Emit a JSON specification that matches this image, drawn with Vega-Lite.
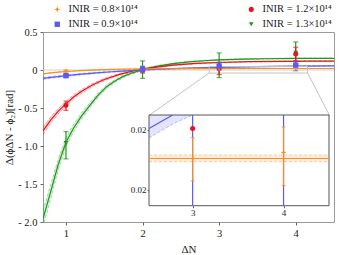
{
"$schema": "https://vega.github.io/schema/vega-lite/v6.json",
"width": 291, "height": 190,
"autosize": "none",
"padding": {"left": 43, "top": 32, "right": 5, "bottom": 33},
"config": {
  "font": "Liberation Serif",
  "view": {"stroke": "#9a9a9a", "strokeWidth": 1},
  "axis": {"grid": false, "domain": false, "labelFont": "Liberation Serif", "labelFontSize": 10.5, "labelColor": "#1a1a1a", "titleFont": "Liberation Serif", "titleFontSize": 11, "titleFontWeight": "normal", "titleColor": "#1a1a1a", "tickColor": "#666666", "tickSize": 3},
  "legend": {"orient": "none", "legendX": 9, "legendY": -28, "columns": 2, "columnPadding": 108, "rowPadding": 4, "labelFont": "Liberation Serif", "labelFontSize": 10.5, "labelColor": "#1a1a1a", "labelLimit": 200, "symbolOpacity": 1, "symbolStrokeWidth": 0, "labelOffset": 6}
},
"datasets": {
  "curves": [
    {"s":"1.3","x":0.7,"y":-1.96,"lo":-2.07,"hi":-1.85},
    {"s":"1.3","x":0.817,"y":-1.54,"lo":-1.629,"hi":-1.451},
    {"s":"1.3","x":0.9,"y":-1.24,"lo":-1.314,"hi":-1.166},
    {"s":"1.3","x":1.0,"y":-0.95,"lo":-1.009,"hi":-0.891},
    {"s":"1.3","x":1.1,"y":-0.763,"lo":-0.813,"hi":-0.713},
    {"s":"1.3","x":1.2,"y":-0.61,"lo":-0.652,"hi":-0.568},
    {"s":"1.3","x":1.317,"y":-0.46,"lo":-0.495,"hi":-0.425},
    {"s":"1.3","x":1.42,"y":-0.33,"lo":-0.358,"hi":-0.302},
    {"s":"1.3","x":1.535,"y":-0.216,"lo":-0.239,"hi":-0.193},
    {"s":"1.3","x":1.65,"y":-0.138,"lo":-0.157,"hi":-0.119},
    {"s":"1.3","x":1.75,"y":-0.084,"lo":-0.1,"hi":-0.068},
    {"s":"1.3","x":1.87,"y":-0.037,"lo":-0.051,"hi":-0.023},
    {"s":"1.3","x":2.0,"y":0.004,"lo":-0.008,"hi":0.016},
    {"s":"1.3","x":2.2,"y":0.052,"lo":0.043,"hi":0.061},
    {"s":"1.3","x":2.4,"y":0.084,"lo":0.076,"hi":0.092},
    {"s":"1.3","x":2.6,"y":0.107,"lo":0.101,"hi":0.113},
    {"s":"1.3","x":2.8,"y":0.122,"lo":0.116,"hi":0.128},
    {"s":"1.3","x":3.0,"y":0.132,"lo":0.127,"hi":0.137},
    {"s":"1.3","x":3.3,"y":0.142,"lo":0.137,"hi":0.147},
    {"s":"1.3","x":3.6,"y":0.148,"lo":0.144,"hi":0.152},
    {"s":"1.3","x":4.0,"y":0.152,"lo":0.148,"hi":0.156},
    {"s":"1.3","x":4.5,"y":0.154,"lo":0.15,"hi":0.158},
    {"s":"1.2","x":0.7,"y":-0.8,"lo":-0.85,"hi":-0.75},
    {"s":"1.2","x":0.8,"y":-0.659,"lo":-0.702,"hi":-0.616},
    {"s":"1.2","x":0.9,"y":-0.541,"lo":-0.578,"hi":-0.504},
    {"s":"1.2","x":1.0,"y":-0.445,"lo":-0.477,"hi":-0.413},
    {"s":"1.2","x":1.1,"y":-0.355,"lo":-0.383,"hi":-0.327},
    {"s":"1.2","x":1.2,"y":-0.283,"lo":-0.307,"hi":-0.259},
    {"s":"1.2","x":1.35,"y":-0.194,"lo":-0.214,"hi":-0.174},
    {"s":"1.2","x":1.5,"y":-0.125,"lo":-0.141,"hi":-0.109},
    {"s":"1.2","x":1.7,"y":-0.057,"lo":-0.07,"hi":-0.044},
    {"s":"1.2","x":1.9,"y":-0.007,"lo":-0.017,"hi":0.003},
    {"s":"1.2","x":2.1,"y":0.029,"lo":0.02,"hi":0.038},
    {"s":"1.2","x":2.4,"y":0.0645,"lo":0.058,"hi":0.071},
    {"s":"1.2","x":2.7,"y":0.086,"lo":0.08,"hi":0.092},
    {"s":"1.2","x":3.0,"y":0.099,"lo":0.094,"hi":0.104},
    {"s":"1.2","x":3.4,"y":0.109,"lo":0.105,"hi":0.113},
    {"s":"1.2","x":3.8,"y":0.1145,"lo":0.11,"hi":0.119},
    {"s":"1.2","x":4.2,"y":0.117,"lo":0.113,"hi":0.121},
    {"s":"1.2","x":4.5,"y":0.118,"lo":0.114,"hi":0.122},
    {"s":"0.9","x":0.7,"y":-0.111,"lo":-0.125,"hi":-0.097},
    {"s":"0.9","x":0.8,"y":-0.098,"lo":-0.111,"hi":-0.085},
    {"s":"0.9","x":0.9,"y":-0.086,"lo":-0.099,"hi":-0.073},
    {"s":"0.9","x":1.0,"y":-0.075,"lo":-0.087,"hi":-0.063},
    {"s":"0.9","x":1.2,"y":-0.055,"lo":-0.065,"hi":-0.045},
    {"s":"0.9","x":1.4,"y":-0.038,"lo":-0.047,"hi":-0.029},
    {"s":"0.9","x":1.6,"y":-0.023,"lo":-0.031,"hi":-0.015},
    {"s":"0.9","x":1.8,"y":-0.011,"lo":-0.018,"hi":-0.004},
    {"s":"0.9","x":2.0,"y":0.0,"lo":-0.007,"hi":0.007},
    {"s":"0.9","x":2.3,"y":0.0135,"lo":0.008,"hi":0.019},
    {"s":"0.9","x":2.6,"y":0.024,"lo":0.019,"hi":0.029},
    {"s":"0.9","x":3.0,"y":0.035,"lo":0.031,"hi":0.039},
    {"s":"0.9","x":3.5,"y":0.0446,"lo":0.041,"hi":0.048},
    {"s":"0.9","x":4.0,"y":0.051,"lo":0.048,"hi":0.054},
    {"s":"0.9","x":4.5,"y":0.0555,"lo":0.053,"hi":0.058},
    {"s":"0.8","x":0.7,"y":-0.05,"lo":-0.054,"hi":-0.046},
    {"s":"0.8","x":0.8,"y":-0.038,"lo":-0.0415,"hi":-0.0345},
    {"s":"0.8","x":0.9,"y":-0.028,"lo":-0.031,"hi":-0.025},
    {"s":"0.8","x":1.0,"y":-0.02,"lo":-0.0226,"hi":-0.0174},
    {"s":"0.8","x":1.2,"y":-0.0075,"lo":-0.0095,"hi":-0.0055},
    {"s":"0.8","x":1.4,"y":0.0011,"lo":-0.0004,"hi":0.0026},
    {"s":"0.8","x":1.6,"y":0.007,"lo":0.0057,"hi":0.0083},
    {"s":"0.8","x":1.8,"y":0.011,"lo":0.01,"hi":0.012},
    {"s":"0.8","x":2.0,"y":0.0138,"lo":0.0129,"hi":0.0147},
    {"s":"0.8","x":2.3,"y":0.0165,"lo":0.0157,"hi":0.0173},
    {"s":"0.8","x":2.6,"y":0.018,"lo":0.0173,"hi":0.0187},
    {"s":"0.8","x":3.0,"y":0.019,"lo":0.0183,"hi":0.0197},
    {"s":"0.8","x":3.5,"y":0.0196,"lo":0.019,"hi":0.0202},
    {"s":"0.8","x":4.0,"y":0.0199,"lo":0.0193,"hi":0.0205},
    {"s":"0.8","x":4.5,"y":0.0199,"lo":0.0193,"hi":0.0205}
  ],
  "pts": [
    {"s":"1.3","x":1,"y":-0.96,"lo":-1.17,"hi":-0.81},
    {"s":"1.3","x":2,"y":0.0,"lo":-0.11,"hi":0.12},
    {"s":"1.3","x":3,"y":0.06,"lo":-0.1,"hi":0.225},
    {"s":"1.3","x":4,"y":0.225,"lo":0.08,"hi":0.37},
    {"s":"1.2","x":1,"y":-0.465,"lo":-0.53,"hi":-0.41},
    {"s":"1.2","x":2,"y":0.0,"lo":-0.04,"hi":0.04},
    {"s":"1.2","x":3,"y":0.0221,"lo":-0.06,"hi":0.1},
    {"s":"1.2","x":4,"y":0.21,"lo":0.12,"hi":0.3},
    {"s":"0.8","x":1,"y":-0.015,"lo":-0.03,"hi":0.0},
    {"s":"0.8","x":2,"y":0.0,"lo":-0.012,"hi":0.012},
    {"s":"0.8","x":3,"y":0.0201,"lo":0.0186,"hi":0.0215},
    {"s":"0.8","x":4,"y":0.0205,"lo":0.0183,"hi":0.0222},
    {"s":"0.9","x":1,"y":-0.075,"lo":-0.09,"hi":-0.06},
    {"s":"0.9","x":2,"y":0.01,"lo":-0.03,"hi":0.05},
    {"s":"0.9","x":3,"y":0.05,"lo":0.0,"hi":0.1},
    {"s":"0.9","x":4,"y":0.065,"lo":-0.01,"hi":0.12}
  ],
  "icurves": [
    {"s":"0.9","x":2.52,"y":0.0221,"lo":0.02147,"hi":0.025},
    {"s":"0.9","x":2.78,"y":0.023,"lo":0.0224,"hi":0.026},
    {"s":"0.9","x":3.0,"y":null,"lo":0.023,"hi":0.027},
    {"s":"0.8","x":2.52,"y":0.0201,"lo":0.01989,"hi":0.02033},
    {"s":"0.8","x":4.5,"y":0.0201,"lo":0.01989,"hi":0.02033}
  ],
  "ipts": [
    {"s":"0.9","x":3,"y":null,"lo":0.0,"hi":0.1,"clo":null,"chi":null},
    {"s":"0.9","x":4,"y":null,"lo":0.0,"hi":0.1,"clo":null,"chi":null},
    {"s":"1.2","x":3,"y":0.0221,"lo":null,"hi":null,"clo":null,"chi":null},
    {"s":"0.8","x":3,"y":0.0201,"lo":0.0186,"hi":0.0215,"clo":0.0186,"chi":0.0215},
    {"s":"0.8","x":4,"y":0.0205,"lo":0.0183,"hi":0.0222,"clo":0.0183,"chi":0.0222}
  ]
},
"layer": [
  {
    "encoding": {
      "x": {"field": "x", "type": "quantitative", "scale": {"domain": [0.7, 4.5], "nice": false, "zero": false}, "axis": {"values": [1, 2, 3, 4], "title": "ΔN", "labelPadding": 3, "titlePadding": 5}}
    },
    "layer": [
      {
        "data": {"values": [{"x": 0.7, "x2": 4.5, "y": 0}]},
        "mark": {"type": "rule", "color": "#d0d0d0", "strokeWidth": 1},
        "encoding": {
          "x2": {"field": "x2"},
          "y": {"field": "y", "type": "quantitative", "scale": {"domain": [-2, 0.5], "nice": false, "zero": false}, "axis": {"values": [-2, -1.5, -1, -0.5, 0, 0.5], "title": "Δ(ϕΔN - ϕ₂)[rad]", "labelExpr": "datum.value < 0 ? '- ' + format(-datum.value, '.1f') : (datum.value == 0 ? '0' : format(datum.value, '.1f'))", "labelPadding": 3, "titlePadding": 3}}
        }
      },
      {
        "data": {"name": "curves"},
        "mark": {"type": "area", "opacity": 0.16, "clip": true},
        "encoding": {
          "y": {"field": "lo", "type": "quantitative", "scale": {"domain": [-2, 0.5], "nice": false, "zero": false}, "axis": {"values": [-2, -1.5, -1, -0.5, 0, 0.5], "title": "Δ(ϕΔN - ϕ₂)[rad]", "labelExpr": "datum.value < 0 ? '- ' + format(-datum.value, '.1f') : (datum.value == 0 ? '0' : format(datum.value, '.1f'))", "labelPadding": 3, "titlePadding": 3}},
          "y2": {"field": "hi"},
          "color": {"field": "s", "type": "nominal", "scale": {"domain": ["0.8", "0.9", "1.2", "1.3"], "range": ["#f7901e", "#5a5af0", "#e8141c", "#1a9a1a"]}, "legend": {"title": null, "values": ["0.8", "0.9", "1.2", "1.3"], "labelExpr": "'INIR = ' + datum.label + '×10¹⁴'"}}
        }
      },
      {
        "data": {"name": "curves"},
        "mark": {"type": "line", "strokeDash": [3, 2], "strokeWidth": 0.8, "opacity": 0.45, "clip": true},
        "encoding": {
          "y": {"field": "lo", "type": "quantitative", "scale": {"domain": [-2, 0.5], "nice": false, "zero": false}, "axis": {"values": [-2, -1.5, -1, -0.5, 0, 0.5], "title": "Δ(ϕΔN - ϕ₂)[rad]", "labelExpr": "datum.value < 0 ? '- ' + format(-datum.value, '.1f') : (datum.value == 0 ? '0' : format(datum.value, '.1f'))", "labelPadding": 3, "titlePadding": 3}},
          "color": {"field": "s", "type": "nominal", "scale": {"domain": ["0.8", "0.9", "1.2", "1.3"], "range": ["#f7901e", "#5a5af0", "#e8141c", "#1a9a1a"]}, "legend": {"title": null, "values": ["0.8", "0.9", "1.2", "1.3"], "labelExpr": "'INIR = ' + datum.label + '×10¹⁴'"}}
        }
      },
      {
        "data": {"name": "curves"},
        "mark": {"type": "line", "strokeDash": [3, 2], "strokeWidth": 0.8, "opacity": 0.45, "clip": true},
        "encoding": {
          "y": {"field": "hi", "type": "quantitative", "scale": {"domain": [-2, 0.5], "nice": false, "zero": false}, "axis": {"values": [-2, -1.5, -1, -0.5, 0, 0.5], "title": "Δ(ϕΔN - ϕ₂)[rad]", "labelExpr": "datum.value < 0 ? '- ' + format(-datum.value, '.1f') : (datum.value == 0 ? '0' : format(datum.value, '.1f'))", "labelPadding": 3, "titlePadding": 3}},
          "color": {"field": "s", "type": "nominal", "scale": {"domain": ["0.8", "0.9", "1.2", "1.3"], "range": ["#f7901e", "#5a5af0", "#e8141c", "#1a9a1a"]}, "legend": {"title": null, "values": ["0.8", "0.9", "1.2", "1.3"], "labelExpr": "'INIR = ' + datum.label + '×10¹⁴'"}}
        }
      },
      {
        "data": {"name": "curves"},
        "mark": {"type": "line", "strokeWidth": 1.2, "clip": true},
        "encoding": {
          "y": {"field": "y", "type": "quantitative", "scale": {"domain": [-2, 0.5], "nice": false, "zero": false}, "axis": {"values": [-2, -1.5, -1, -0.5, 0, 0.5], "title": "Δ(ϕΔN - ϕ₂)[rad]", "labelExpr": "datum.value < 0 ? '- ' + format(-datum.value, '.1f') : (datum.value == 0 ? '0' : format(datum.value, '.1f'))", "labelPadding": 3, "titlePadding": 3}},
          "color": {"field": "s", "type": "nominal", "scale": {"domain": ["0.8", "0.9", "1.2", "1.3"], "range": ["#f7901e", "#5a5af0", "#e8141c", "#1a9a1a"]}, "legend": {"title": null, "values": ["0.8", "0.9", "1.2", "1.3"], "labelExpr": "'INIR = ' + datum.label + '×10¹⁴'"}}
        }
      },
      {
        "data": {"values": [{"x": 2.87, "x2": 4.155, "y": -0.04, "y2": 0.045}]},
        "mark": {"type": "rect", "fill": null, "fillOpacity": 0, "stroke": "#c4c4c4", "strokeWidth": 1},
        "encoding": {
          "x2": {"field": "x2"},
          "y": {"field": "y", "type": "quantitative", "scale": {"domain": [-2, 0.5], "nice": false, "zero": false}, "axis": {"values": [-2, -1.5, -1, -0.5, 0, 0.5], "title": "Δ(ϕΔN - ϕ₂)[rad]", "labelExpr": "datum.value < 0 ? '- ' + format(-datum.value, '.1f') : (datum.value == 0 ? '0' : format(datum.value, '.1f'))", "labelPadding": 3, "titlePadding": 3}},
          "y2": {"field": "y2"}
        }
      },
      {
        "data": {"values": [{"x": 2.87, "y": -0.04, "x2": 2.086, "y2": -0.597}, {"x": 4.155, "y": -0.04, "x2": 4.446, "y2": -0.606}]},
        "mark": {"type": "rule", "color": "#c4c4c4", "strokeWidth": 1},
        "encoding": {
          "x2": {"field": "x2"},
          "y": {"field": "y", "type": "quantitative", "scale": {"domain": [-2, 0.5], "nice": false, "zero": false}, "axis": {"values": [-2, -1.5, -1, -0.5, 0, 0.5], "title": "Δ(ϕΔN - ϕ₂)[rad]", "labelExpr": "datum.value < 0 ? '- ' + format(-datum.value, '.1f') : (datum.value == 0 ? '0' : format(datum.value, '.1f'))", "labelPadding": 3, "titlePadding": 3}},
          "y2": {"field": "y2"}
        }
      },
      {
        "data": {"name": "pts"},
        "mark": {"type": "rule", "strokeWidth": 1.2, "clip": true},
        "encoding": {
          "y": {"field": "lo", "type": "quantitative", "scale": {"domain": [-2, 0.5], "nice": false, "zero": false}, "axis": {"values": [-2, -1.5, -1, -0.5, 0, 0.5], "title": "Δ(ϕΔN - ϕ₂)[rad]", "labelExpr": "datum.value < 0 ? '- ' + format(-datum.value, '.1f') : (datum.value == 0 ? '0' : format(datum.value, '.1f'))", "labelPadding": 3, "titlePadding": 3}},
          "y2": {"field": "hi"},
          "color": {"field": "s", "type": "nominal", "scale": {"domain": ["0.8", "0.9", "1.2", "1.3"], "range": ["#f7901e", "#5a5af0", "#e8141c", "#1a9a1a"]}, "legend": {"title": null, "values": ["0.8", "0.9", "1.2", "1.3"], "labelExpr": "'INIR = ' + datum.label + '×10¹⁴'"}}
        }
      },
      {
        "data": {"name": "pts"},
        "mark": {"type": "tick", "orient": "horizontal", "size": 5, "thickness": 1.2},
        "encoding": {
          "y": {"field": "lo", "type": "quantitative", "scale": {"domain": [-2, 0.5], "nice": false, "zero": false}, "axis": {"values": [-2, -1.5, -1, -0.5, 0, 0.5], "title": "Δ(ϕΔN - ϕ₂)[rad]", "labelExpr": "datum.value < 0 ? '- ' + format(-datum.value, '.1f') : (datum.value == 0 ? '0' : format(datum.value, '.1f'))", "labelPadding": 3, "titlePadding": 3}},
          "color": {"field": "s", "type": "nominal", "scale": {"domain": ["0.8", "0.9", "1.2", "1.3"], "range": ["#f7901e", "#5a5af0", "#e8141c", "#1a9a1a"]}, "legend": {"title": null, "values": ["0.8", "0.9", "1.2", "1.3"], "labelExpr": "'INIR = ' + datum.label + '×10¹⁴'"}}
        }
      },
      {
        "data": {"name": "pts"},
        "mark": {"type": "tick", "orient": "horizontal", "size": 5, "thickness": 1.2},
        "encoding": {
          "y": {"field": "hi", "type": "quantitative", "scale": {"domain": [-2, 0.5], "nice": false, "zero": false}, "axis": {"values": [-2, -1.5, -1, -0.5, 0, 0.5], "title": "Δ(ϕΔN - ϕ₂)[rad]", "labelExpr": "datum.value < 0 ? '- ' + format(-datum.value, '.1f') : (datum.value == 0 ? '0' : format(datum.value, '.1f'))", "labelPadding": 3, "titlePadding": 3}},
          "color": {"field": "s", "type": "nominal", "scale": {"domain": ["0.8", "0.9", "1.2", "1.3"], "range": ["#f7901e", "#5a5af0", "#e8141c", "#1a9a1a"]}, "legend": {"title": null, "values": ["0.8", "0.9", "1.2", "1.3"], "labelExpr": "'INIR = ' + datum.label + '×10¹⁴'"}}
        }
      },
      {
        "data": {"name": "pts"},
        "mark": {"type": "point", "filled": true, "opacity": 1},
        "encoding": {
          "y": {"field": "y", "type": "quantitative", "scale": {"domain": [-2, 0.5], "nice": false, "zero": false}, "axis": {"values": [-2, -1.5, -1, -0.5, 0, 0.5], "title": "Δ(ϕΔN - ϕ₂)[rad]", "labelExpr": "datum.value < 0 ? '- ' + format(-datum.value, '.1f') : (datum.value == 0 ? '0' : format(datum.value, '.1f'))", "labelPadding": 3, "titlePadding": 3}},
          "color": {"field": "s", "type": "nominal", "scale": {"domain": ["0.8", "0.9", "1.2", "1.3"], "range": ["#f7901e", "#5a5af0", "#e8141c", "#1a9a1a"]}, "legend": {"title": null, "values": ["0.8", "0.9", "1.2", "1.3"], "labelExpr": "'INIR = ' + datum.label + '×10¹⁴'"}},
          "shape": {"field": "s", "type": "nominal", "scale": {"domain": ["0.8", "0.9", "1.2", "1.3"], "range": ["M0,-1L0.3,-0.3L1,0L0.3,0.3L0,1L-0.3,0.3L-1,0L-0.3,-0.3Z", "square", "circle", "triangle-down"]}, "legend": {"title": null, "values": ["0.8", "0.9", "1.2", "1.3"], "labelExpr": "'INIR = ' + datum.label + '×10¹⁴'"}},
          "size": {"field": "s", "type": "ordinal", "scale": {"domain": ["0.8", "0.9", "1.2", "1.3"], "range": [32, 22, 12, 30]}, "legend": {"title": null, "values": ["0.8", "0.9", "1.2", "1.3"], "labelExpr": "'INIR = ' + datum.label + '×10¹⁴'"}}
        }
      }
    ]
  },
  {
    "encoding": {
      "x": {"field": "x", "type": "quantitative", "scale": {"domain": [2.52, 4.5], "range": [106, 286], "nice": false, "zero": false, "clamp": true}, "axis": {"orient": "bottom", "offset": -16.3, "values": [3, 4], "title": null, "labelFontSize": 9, "tickSize": 2, "labelPadding": 1}}
    },
    "layer": [
      {
        "data": {"values": [{"x": 2.52, "x2": 4.5, "y": 0.01695, "y2": 0.023}]},
        "mark": {"type": "rect", "fill": "white", "stroke": "#555555", "strokeWidth": 1},
        "encoding": {
          "x2": {"field": "x2"},
          "y": {"field": "y", "type": "quantitative", "scale": {"domain": [0.01695, 0.023], "range": [173.7, 83], "nice": false, "zero": false, "clamp": true}, "axis": {"orient": "left", "offset": -106, "values": [0.018, 0.022], "format": ".2f", "title": null, "labelFontSize": 9, "tickSize": 2, "labelPadding": 1}},
          "y2": {"field": "y2"}
        }
      },
      {
        "data": {"name": "icurves"},
        "mark": {"type": "area", "opacity": 0.16},
        "encoding": {
          "y": {"field": "lo", "type": "quantitative", "scale": {"domain": [0.01695, 0.023], "range": [173.7, 83], "nice": false, "zero": false, "clamp": true}, "axis": {"orient": "left", "offset": -106, "values": [0.018, 0.022], "format": ".2f", "title": null, "labelFontSize": 9, "tickSize": 2, "labelPadding": 1}},
          "y2": {"field": "hi"},
          "color": {"field": "s", "type": "nominal", "scale": {"domain": ["0.8", "0.9", "1.2", "1.3"], "range": ["#f7901e", "#5a5af0", "#e8141c", "#1a9a1a"]}, "legend": {"title": null, "values": ["0.8", "0.9", "1.2", "1.3"], "labelExpr": "'INIR = ' + datum.label + '×10¹⁴'"}}
        }
      },
      {
        "data": {"name": "icurves"},
        "mark": {"type": "line", "strokeDash": [3, 2], "strokeWidth": 0.8, "opacity": 0.5},
        "encoding": {
          "y": {"field": "lo", "type": "quantitative", "scale": {"domain": [0.01695, 0.023], "range": [173.7, 83], "nice": false, "zero": false, "clamp": true}, "axis": {"orient": "left", "offset": -106, "values": [0.018, 0.022], "format": ".2f", "title": null, "labelFontSize": 9, "tickSize": 2, "labelPadding": 1}},
          "color": {"field": "s", "type": "nominal", "scale": {"domain": ["0.8", "0.9", "1.2", "1.3"], "range": ["#f7901e", "#5a5af0", "#e8141c", "#1a9a1a"]}, "legend": {"title": null, "values": ["0.8", "0.9", "1.2", "1.3"], "labelExpr": "'INIR = ' + datum.label + '×10¹⁴'"}}
        }
      },
      {
        "data": {"name": "icurves"},
        "transform": [{"filter": "datum.s == '0.8'"}],
        "mark": {"type": "line", "strokeDash": [3, 2], "strokeWidth": 0.8, "opacity": 0.5},
        "encoding": {
          "y": {"field": "hi", "type": "quantitative", "scale": {"domain": [0.01695, 0.023], "range": [173.7, 83], "nice": false, "zero": false, "clamp": true}, "axis": {"orient": "left", "offset": -106, "values": [0.018, 0.022], "format": ".2f", "title": null, "labelFontSize": 9, "tickSize": 2, "labelPadding": 1}},
          "color": {"field": "s", "type": "nominal", "scale": {"domain": ["0.8", "0.9", "1.2", "1.3"], "range": ["#f7901e", "#5a5af0", "#e8141c", "#1a9a1a"]}, "legend": {"title": null, "values": ["0.8", "0.9", "1.2", "1.3"], "labelExpr": "'INIR = ' + datum.label + '×10¹⁴'"}}
        }
      },
      {
        "data": {"name": "icurves"},
        "mark": {"type": "line", "strokeWidth": 1.2},
        "encoding": {
          "y": {"field": "y", "type": "quantitative", "scale": {"domain": [0.01695, 0.023], "range": [173.7, 83], "nice": false, "zero": false, "clamp": true}, "axis": {"orient": "left", "offset": -106, "values": [0.018, 0.022], "format": ".2f", "title": null, "labelFontSize": 9, "tickSize": 2, "labelPadding": 1}},
          "color": {"field": "s", "type": "nominal", "scale": {"domain": ["0.8", "0.9", "1.2", "1.3"], "range": ["#f7901e", "#5a5af0", "#e8141c", "#1a9a1a"]}, "legend": {"title": null, "values": ["0.8", "0.9", "1.2", "1.3"], "labelExpr": "'INIR = ' + datum.label + '×10¹⁴'"}}
        }
      },
      {
        "data": {"name": "ipts"},
        "mark": {"type": "rule", "strokeWidth": 1.2},
        "encoding": {
          "y": {"field": "lo", "type": "quantitative", "scale": {"domain": [0.01695, 0.023], "range": [173.7, 83], "nice": false, "zero": false, "clamp": true}, "axis": {"orient": "left", "offset": -106, "values": [0.018, 0.022], "format": ".2f", "title": null, "labelFontSize": 9, "tickSize": 2, "labelPadding": 1}},
          "y2": {"field": "hi"},
          "color": {"field": "s", "type": "nominal", "scale": {"domain": ["0.8", "0.9", "1.2", "1.3"], "range": ["#f7901e", "#5a5af0", "#e8141c", "#1a9a1a"]}, "legend": {"title": null, "values": ["0.8", "0.9", "1.2", "1.3"], "labelExpr": "'INIR = ' + datum.label + '×10¹⁴'"}}
        }
      },
      {
        "data": {"name": "ipts"},
        "mark": {"type": "tick", "orient": "horizontal", "size": 4, "thickness": 1.2},
        "encoding": {
          "y": {"field": "clo", "type": "quantitative", "scale": {"domain": [0.01695, 0.023], "range": [173.7, 83], "nice": false, "zero": false, "clamp": true}, "axis": {"orient": "left", "offset": -106, "values": [0.018, 0.022], "format": ".2f", "title": null, "labelFontSize": 9, "tickSize": 2, "labelPadding": 1}},
          "color": {"field": "s", "type": "nominal", "scale": {"domain": ["0.8", "0.9", "1.2", "1.3"], "range": ["#f7901e", "#5a5af0", "#e8141c", "#1a9a1a"]}, "legend": {"title": null, "values": ["0.8", "0.9", "1.2", "1.3"], "labelExpr": "'INIR = ' + datum.label + '×10¹⁴'"}}
        }
      },
      {
        "data": {"name": "ipts"},
        "mark": {"type": "tick", "orient": "horizontal", "size": 4, "thickness": 1.2},
        "encoding": {
          "y": {"field": "chi", "type": "quantitative", "scale": {"domain": [0.01695, 0.023], "range": [173.7, 83], "nice": false, "zero": false, "clamp": true}, "axis": {"orient": "left", "offset": -106, "values": [0.018, 0.022], "format": ".2f", "title": null, "labelFontSize": 9, "tickSize": 2, "labelPadding": 1}},
          "color": {"field": "s", "type": "nominal", "scale": {"domain": ["0.8", "0.9", "1.2", "1.3"], "range": ["#f7901e", "#5a5af0", "#e8141c", "#1a9a1a"]}, "legend": {"title": null, "values": ["0.8", "0.9", "1.2", "1.3"], "labelExpr": "'INIR = ' + datum.label + '×10¹⁴'"}}
        }
      },
      {
        "data": {"name": "ipts"},
        "mark": {"type": "point", "filled": true, "opacity": 1},
        "encoding": {
          "y": {"field": "y", "type": "quantitative", "scale": {"domain": [0.01695, 0.023], "range": [173.7, 83], "nice": false, "zero": false, "clamp": true}, "axis": {"orient": "left", "offset": -106, "values": [0.018, 0.022], "format": ".2f", "title": null, "labelFontSize": 9, "tickSize": 2, "labelPadding": 1}},
          "color": {"field": "s", "type": "nominal", "scale": {"domain": ["0.8", "0.9", "1.2", "1.3"], "range": ["#f7901e", "#5a5af0", "#e8141c", "#1a9a1a"]}, "legend": {"title": null, "values": ["0.8", "0.9", "1.2", "1.3"], "labelExpr": "'INIR = ' + datum.label + '×10¹⁴'"}},
          "shape": {"field": "s", "type": "nominal", "scale": {"domain": ["0.8", "0.9", "1.2", "1.3"], "range": ["M0,-1L0.3,-0.3L1,0L0.3,0.3L0,1L-0.3,0.3L-1,0L-0.3,-0.3Z", "square", "circle", "triangle-down"]}, "legend": {"title": null, "values": ["0.8", "0.9", "1.2", "1.3"], "labelExpr": "'INIR = ' + datum.label + '×10¹⁴'"}},
          "size": {"field": "s", "type": "ordinal", "scale": {"domain": ["0.8", "0.9", "1.2", "1.3"], "range": [32, 22, 12, 30]}, "legend": {"title": null, "values": ["0.8", "0.9", "1.2", "1.3"], "labelExpr": "'INIR = ' + datum.label + '×10¹⁴'"}}
        }
      }
    ]
  }
],
"resolve": {"scale": {"x": "independent", "y": "independent"}, "axis": {"x": "independent", "y": "independent"}}
}
